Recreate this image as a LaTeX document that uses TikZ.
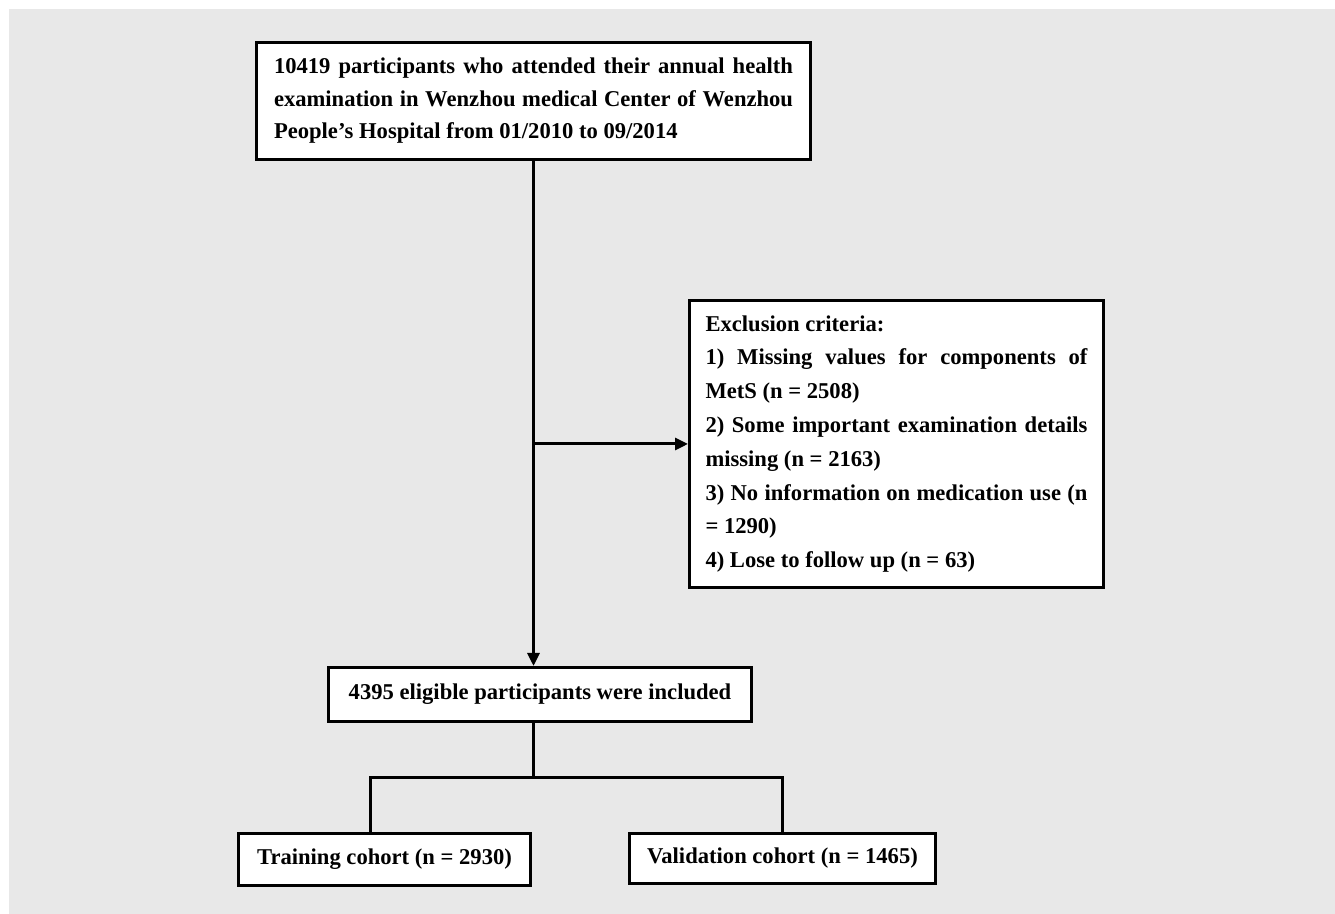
\documentclass[tikz,border=0pt]{standalone}
\usepackage{fontspec}
\setmainfont{Liberation Serif}
\usetikzlibrary{arrows.meta}
\definecolor{bggray}{RGB}{232,232,232}

\begin{document}
\begin{tikzpicture}[b/.style={draw, fill=white, line width=1.5pt, inner sep=0pt, font=\fontsize{11.3}{16.25}\selectfont\bfseries}, l/.style={line width=1.5pt}, a/.style={l, -{Triangle[length=6.5pt, width=6pt]}}]
		\useasboundingbox (0,0) rectangle (667.5pt,457pt);
		\fill[bggray] (4.5pt,0) rectangle (667.5pt,452.5pt);

		\node[b, minimum width=277pt, minimum height=58.5pt, text width=259.5pt, align=justify] (T) at (266.75pt,406.5pt) {10419 participants who attended their annual health\linebreak examination in Wenzhou medical Center of Wenzhou\linebreak People’s Hospital from 01/2010 to 09/2014};
		\node[b, minimum width=207pt, minimum height=143.5pt, text width=191pt, align=justify, font=\fontsize{11.3}{16.9}\selectfont\bfseries] (E) at (448.25pt,235pt) {Exclusion criteria:\\1) Missing values for components of\linebreak MetS (n = 2508)\\2) Some important examination details\linebreak missing (n = 2163)\\3) No information on medication use (n\linebreak = 1290)\\4) Lose to follow up (n = 63)};
		\node[b, minimum width=211.5pt, minimum height=27pt] (I) at (270pt,109.75pt) {4395 eligible participants were included};
		\node[b, minimum width=146pt, minimum height=26pt] (R) at (192.25pt,27.25pt) {Training cohort (n = 2930)};
		\node[b, minimum width=153pt, minimum height=25pt] (V) at (391.25pt,27.75pt) {Validation cohort (n = 1465)};

		\coordinate (S) at (T.south |- E.west);
		\coordinate (J) at (T.south |- 0,68pt);

		\draw[a] (T.south) -- (T.south |- I.north);
		\draw[a] (S) -- (E.west);
		\draw[l] (T.south |- I.south) -- (J);
		\draw[l] (R.north -| 185pt,0) |- (J) -| (V.north);
	\end{tikzpicture}
\end{document}
